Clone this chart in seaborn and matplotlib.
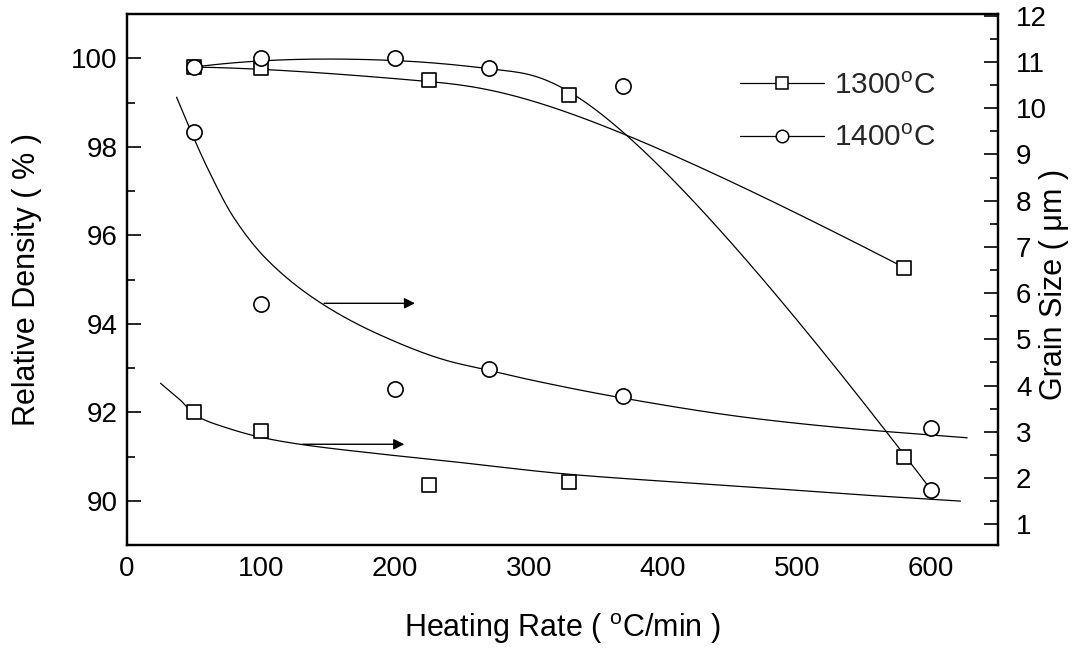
import numpy as np
import matplotlib
matplotlib.use("Agg")
import matplotlib.pyplot as plt
import seaborn as sns
from matplotlib.lines import Line2D
from matplotlib.ticker import MultipleLocator

# ---- data -------------------------------------------------------------
# heating rates (°C/min)
rate_1300 = [50, 100, 225, 330, 580]
rate_1400 = [50, 100, 200, 270, 370, 600]

# relative density (%)
density_1300 = [99.80, 99.78, 99.50, 99.17, 95.27]
density_1400 = [99.80, 100.00, 100.00, 99.78, 99.38, 90.25]

# grain size (um)
grain_1300 = [3.42, 3.01, 1.84, 1.91, 2.45]
grain_1400 = [9.48, 5.76, 3.92, 4.35, 3.77, 3.08]

# grain-size trend lines
trend_rate_1300 = [25, 40, 51, 75, 100, 129, 189, 241, 330, 400, 487, 540, 622]
trend_grain_1300 = [4.05, 3.68, 3.36, 3.08, 2.88, 2.73, 2.52, 2.36, 2.08, 1.93, 1.76, 1.65, 1.50]
trend_rate_1400 = [37, 48, 60, 80, 105, 145, 190, 240, 267, 300, 370, 465, 540, 600, 627]
trend_grain_1400 = [10.24, 9.48, 8.71, 7.62, 6.71, 5.78, 5.08, 4.53, 4.35, 4.13, 3.73, 3.30, 3.07, 2.93, 2.87]

series_labels = ["1300$^{\\mathrm{o}}$C", "1400$^{\\mathrm{o}}$C"]


def bspline(xs, ys, n=400, k=3):
    """Clamped uniform B-spline using the points as control polygon."""
    pts = np.column_stack([xs, ys]).astype(float)
    m = len(pts)
    k = min(k, m - 1)
    knots = np.concatenate([np.zeros(k), np.linspace(0, 1, m - k + 1), np.ones(k)])
    u = np.linspace(0, 1, n)
    u[-1] = 1 - 1e-10
    N = np.array([(knots[j] <= u) & (u < knots[j + 1]) for j in range(len(knots) - 1)],
                 dtype=float).T
    for d in range(1, k + 1):
        newN = np.zeros((n, len(knots) - 1 - d))
        for j in range(len(knots) - 1 - d):
            a = knots[j + d] - knots[j]
            b = knots[j + d + 1] - knots[j + 1]
            left = (u - knots[j]) / a * N[:, j] if a > 0 else 0
            right = (knots[j + d + 1] - u) / b * N[:, j + 1] if b > 0 else 0
            newN[:, j] = left + right
        N = newN
    curve = N @ pts
    return curve[:, 0], curve[:, 1]


def smooth_through(xs, ys, n=400):
    """Monotone cubic (Fritsch-Carlson) curve through the given points."""
    x = np.asarray(xs, float)
    y = np.asarray(ys, float)
    h = np.diff(x)
    delta = np.diff(y) / h
    d = np.zeros_like(y)
    d[0], d[-1] = delta[0], delta[-1]
    for k in range(1, len(x) - 1):
        if delta[k - 1] * delta[k] > 0:
            w1 = 2 * h[k] + h[k - 1]
            w2 = h[k] + 2 * h[k - 1]
            d[k] = (w1 + w2) / (w1 / delta[k - 1] + w2 / delta[k])
    xx = np.linspace(x[0], x[-1], n)
    idx = np.clip(np.searchsorted(x, xx) - 1, 0, len(x) - 2)
    t = (xx - x[idx]) / h[idx]
    h00 = 2 * t**3 - 3 * t**2 + 1
    h10 = t**3 - 2 * t**2 + t
    h01 = -2 * t**3 + 3 * t**2
    h11 = t**3 - t**2
    yy = (h00 * y[idx] + h10 * h[idx] * d[idx]
          + h01 * y[idx + 1] + h11 * h[idx] * d[idx + 1])
    return xx, yy


# ---- style ------------------------------------------------------------
sns.set_style("white")
plt.rcParams["font.family"] = ["Liberation Sans", "DejaVu Sans"]
plt.rcParams["mathtext.fontset"] = "custom"
plt.rcParams["mathtext.rm"] = "Liberation Sans"
plt.rcParams["mathtext.it"] = "Liberation Sans:italic"

TICK_FS = 20
LABEL_FS = 22
LINE_W = 0.9

fig = plt.figure(figsize=(10.82, 6.49), dpi=100)
ax = fig.add_axes([127 / 1082, (649 - 545) / 649, 871 / 1082, 531 / 649])
ax2 = ax.twinx()

# density curves (left axis)
for xs, ys in [(rate_1300, density_1300), (rate_1400, density_1400)]:
    cx, cy = bspline(xs, ys)
    sns.lineplot(x=cx, y=cy, ax=ax, color="black", linewidth=LINE_W,
                 sort=False, estimator=None)
sns.scatterplot(x=rate_1300, y=density_1300, ax=ax, marker="s", s=100,
                color="white", edgecolor="black", linewidth=1.2, zorder=4)
sns.scatterplot(x=rate_1400, y=density_1400, ax=ax, marker="o", s=120,
                color="white", edgecolor="black", linewidth=1.2, zorder=5)

# grain size (right axis)
for xs, ys in [(trend_rate_1300, trend_grain_1300), (trend_rate_1400, trend_grain_1400)]:
    cx, cy = smooth_through(xs, ys)
    sns.lineplot(x=cx, y=cy, ax=ax2, color="black", linewidth=LINE_W,
                 sort=False, estimator=None)
sns.scatterplot(x=rate_1300, y=grain_1300, ax=ax2, marker="s", s=100,
                color="white", edgecolor="black", linewidth=1.2, zorder=4)
sns.scatterplot(x=rate_1400, y=grain_1400, ax=ax2, marker="o", s=120,
                color="white", edgecolor="black", linewidth=1.2, zorder=4)

# arrows pointing to the grain-size axis
arrow_props = dict(arrowstyle="-|>", color="black", lw=1.0, mutation_scale=16)
ax2.annotate("", xy=(217, 5.78), xytext=(145, 5.78), arrowprops=arrow_props)
ax2.annotate("", xy=(209, 2.73), xytext=(129, 2.73), arrowprops=arrow_props)

# ---- axes -------------------------------------------------------------
ax.set_xlim(0, 650)
ax.set_ylim(89, 101)
ax2.set_ylim(0.55, 12.04)

ax.xaxis.set_major_locator(MultipleLocator(100))
ax.xaxis.set_minor_locator(MultipleLocator(50))
ax.yaxis.set_major_locator(MultipleLocator(2))
ax.yaxis.set_minor_locator(MultipleLocator(1))
ax2.yaxis.set_major_locator(MultipleLocator(1))
ax2.yaxis.set_minor_locator(MultipleLocator(0.5))

ax.tick_params(axis="both", which="both", direction="in", top=False, right=False,
               color="black", width=1.2, labelsize=TICK_FS, labelcolor="black")
ax.tick_params(axis="both", which="major", length=10)
ax.tick_params(axis="both", which="minor", length=5.5)
ax.tick_params(axis="y", pad=7)
ax.tick_params(axis="x", pad=8)
ax2.tick_params(axis="y", which="both", direction="in", left=False, right=True,
                color="black", width=1.2, labelsize=TICK_FS, labelcolor="black", pad=13)
ax2.tick_params(axis="y", which="major", length=10)
ax2.tick_params(axis="y", which="minor", length=5.5)

for a in (ax, ax2):
    for sp in a.spines.values():
        sp.set_color("black")
        sp.set_linewidth(1.6)
        sp.set_visible(True)

ax.set_xlabel("Heating Rate ( $^{\\mathrm{o}}$C/min )", fontsize=LABEL_FS, color="black")
ax.set_ylabel("Relative Density ( % )", fontsize=LABEL_FS, color="black")
ax2.set_ylabel("Grain Size ( \u03bcm )", fontsize=LABEL_FS, color="black")
ax.xaxis.set_label_coords(0.5, -0.124)
ax.yaxis.set_label_coords(-0.098, 0.5)
ax2.yaxis.set_label_coords(1.047, 0.49)

# legend
handles = [
    Line2D([], [], color="black", lw=LINE_W, marker="s", markersize=8,
           markerfacecolor="white", markeredgecolor="black", markeredgewidth=1.1),
    Line2D([], [], color="black", lw=LINE_W, marker="o", markersize=9,
           markerfacecolor="white", markeredgecolor="black", markeredgewidth=1.1),
]
ax2.legend(handles, series_labels, loc="upper left", bbox_to_anchor=(0.704, 0.891),
           frameon=False, fontsize=21.5, handlelength=2.8, handletextpad=0.35,
           labelspacing=0.82, borderpad=0, borderaxespad=0)

ax.set_zorder(1)
ax.patch.set_visible(False)
ax2.set_zorder(2)

fig.savefig("out.png", dpi=100)
